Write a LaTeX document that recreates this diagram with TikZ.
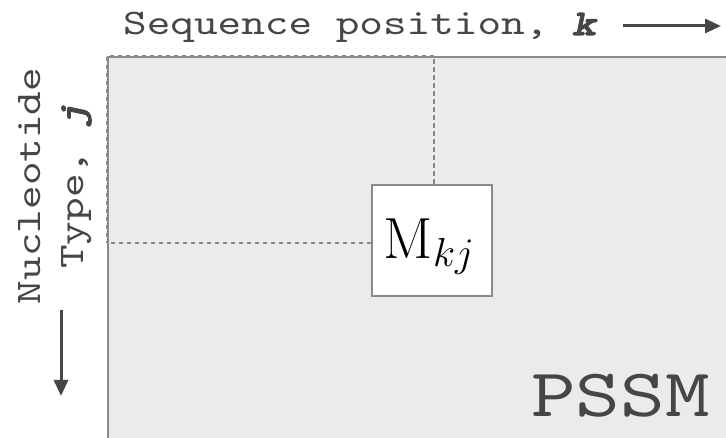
\documentclass[tikz,border=0pt]{standalone}
\usepackage{fix-cm}
\usepackage{fontspec}
\newfontfamily\typefont{lmmono10-regular}[Extension=.otf,FakeStretch=1.25,
  ItalicFont=lmmono10-italic,BoldFont=lmmonolt10-bold,BoldItalicFont=lmmonolt10-boldoblique,
  BoldItalicFeatures={FakeBold=3}]
\usetikzlibrary{arrows.meta}
\definecolor{inkgray}{HTML}{464646}
\definecolor{edgegray}{HTML}{8A8A8A}
\definecolor{fillgray}{HTML}{EBEBEB}
\tikzset{
  frame/.style={draw=edgegray,line width=2pt,fill=fillgray,inner sep=0pt},
  cellbox/.style={draw=edgegray,line width=2pt,fill=white,inner sep=0pt,minimum width=120pt,minimum height=111pt},
  guide/.style={draw=edgegray,line width=2pt,dash pattern=on 4.5pt off 3.5pt},
  axislabel/.style={text=inkgray,font=\fontsize{36}{43}\selectfont\typefont,inner sep=0pt},
  axisarrow/.style={draw=inkgray,line width=3pt,-{Triangle[length=16pt,width=14pt]}}
}
\begin{document}
\begin{tikzpicture}[x=1pt,y=-1pt]
\useasboundingbox (0,0) rectangle (726,438);
\clip (0,0) rectangle (726,438);
% matrix area
\node[frame,anchor=north west,minimum width=660pt,minimum height=420pt] (pssm) at (107,56) {};
\node[text=inkgray,font=\fontsize{68}{68}\selectfont\typefont,anchor=base east,inner sep=0pt] (name) at (710,417) {PSSM};

% one entry
\coordinate (top) at (434,56);
\coordinate (side) at (107,243);
\draw[guide] (top) -- (pssm.north west) -- (side);
\node[cellbox] (cell) at (432,240.5) {};
\draw[guide] (cell.north -| top) -- (top);
\draw[guide] (cell.west |- side) -- (side);
\node[font=\fontsize{58}{60}\selectfont,inner sep=0pt] (entry) at ([xshift=-3pt,yshift=-6pt]cell.center) {$\mathrm{M}_{kj}$};

% axes
\node[axislabel,anchor=base west] (seq) at (123,35) {Sequence position, \textbf{\textit{k}}};
\coordinate (seqstart) at (623,26);
\coordinate (seqend) at (721,26);
\draw[axisarrow] (seqstart) -- (seqend);
\node[axislabel,rotate=90,align=center] (nuc) at (55,186) {Nucleotide\\Type, \textbf{\textit{j}}};
\coordinate (nucstart) at (61,310);
\coordinate (nucend) at (61,396);
\draw[axisarrow] (nucstart) -- (nucend);
\end{tikzpicture}
\end{document}
